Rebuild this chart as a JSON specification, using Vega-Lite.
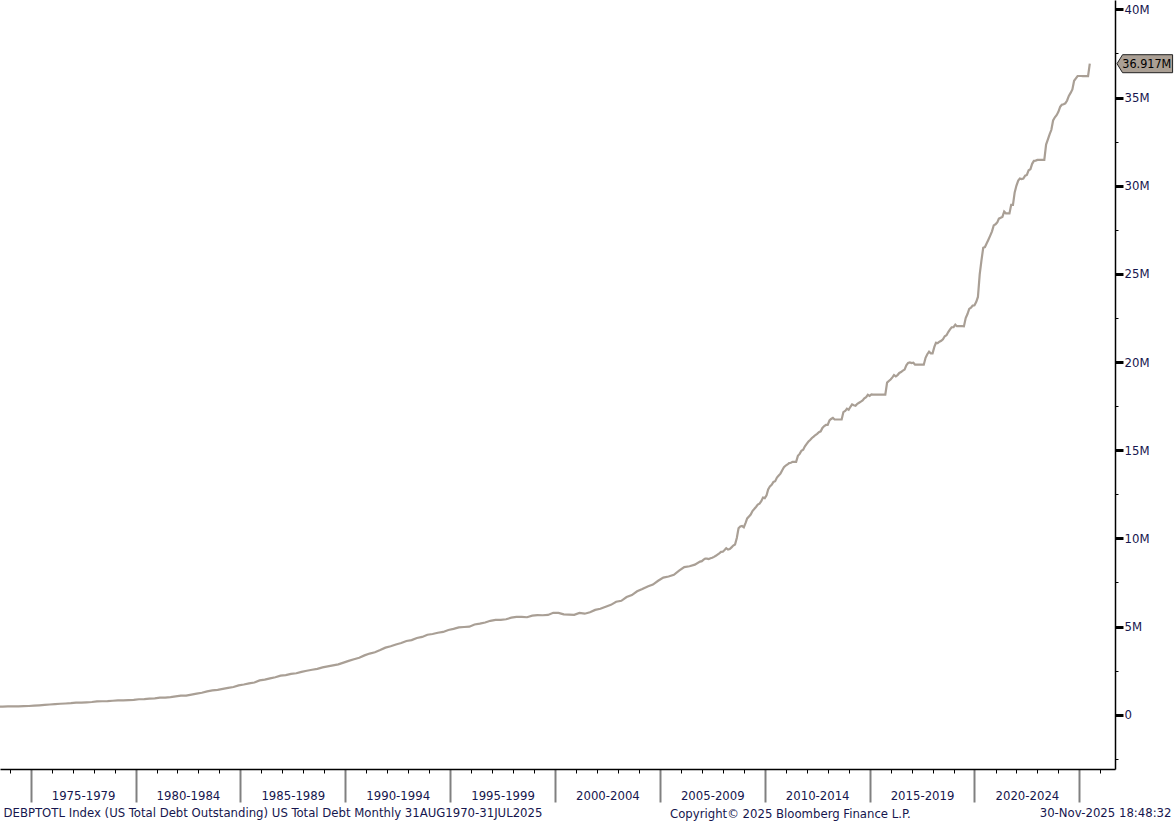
{
  "$schema": "https://vega.github.io/schema/vega-lite/v6.json",
  "width": 1115,
  "height": 769,
  "padding": {"left": 0, "top": 0, "right": 59, "bottom": 52},
  "autosize": {"type": "none"},
  "background": "white",
  "config": {
    "view": {"stroke": null},
    "font": "DejaVu Sans Condensed",
    "axis": {"labelFont": "DejaVu Sans Condensed", "titleFont": "DejaVu Sans Condensed"},
    "title": {"font": "DejaVu Sans Condensed"}
  },
  "title": {
    "text": "Copyright© 2025 Bloomberg Finance L.P.",
    "orient": "bottom",
    "anchor": "start",
    "frame": "group",
    "dx": 670,
    "dy": -17,
    "offset": 0,
    "baseline": "alphabetic",
    "fontSize": 13,
    "fontWeight": "normal",
    "color": "#16164e"
  },
  "data": {
    "values": [
      {"d": "1973-03", "v": 0.458}, {"d": "1973-06", "v": 0.458}, {"d": "1973-09", "v": 0.462}, {"d": "1973-12", "v": 0.470},
      {"d": "1974-03", "v": 0.474}, {"d": "1974-06", "v": 0.475}, {"d": "1974-09", "v": 0.481}, {"d": "1974-12", "v": 0.492},
      {"d": "1975-03", "v": 0.509}, {"d": "1975-06", "v": 0.533}, {"d": "1975-09", "v": 0.554}, {"d": "1975-12", "v": 0.577},
      {"d": "1976-03", "v": 0.600}, {"d": "1976-06", "v": 0.620}, {"d": "1976-09", "v": 0.635}, {"d": "1976-12", "v": 0.654},
      {"d": "1977-03", "v": 0.680}, {"d": "1977-06", "v": 0.686}, {"d": "1977-09", "v": 0.699}, {"d": "1977-12", "v": 0.718},
      {"d": "1978-03", "v": 0.750}, {"d": "1978-06", "v": 0.762}, {"d": "1978-09", "v": 0.772}, {"d": "1978-12", "v": 0.789},
      {"d": "1979-03", "v": 0.809}, {"d": "1979-06", "v": 0.812}, {"d": "1979-09", "v": 0.827}, {"d": "1979-12", "v": 0.845},
      {"d": "1980-03", "v": 0.877}, {"d": "1980-06", "v": 0.885}, {"d": "1980-09", "v": 0.908}, {"d": "1980-12", "v": 0.930},
      {"d": "1981-03", "v": 0.964}, {"d": "1981-06", "v": 0.971}, {"d": "1981-09", "v": 0.998}, {"d": "1981-12", "v": 1.034},
      {"d": "1982-03", "v": 1.076}, {"d": "1982-06", "v": 1.085}, {"d": "1982-09", "v": 1.142}, {"d": "1982-12", "v": 1.197},
      {"d": "1983-03", "v": 1.245}, {"d": "1983-06", "v": 1.318}, {"d": "1983-09", "v": 1.377}, {"d": "1983-12", "v": 1.410},
      {"d": "1984-03", "v": 1.463}, {"d": "1984-06", "v": 1.518}, {"d": "1984-09", "v": 1.572}, {"d": "1984-12", "v": 1.663},
      {"d": "1985-03", "v": 1.710}, {"d": "1985-06", "v": 1.775}, {"d": "1985-09", "v": 1.823}, {"d": "1985-12", "v": 1.945},
      {"d": "1986-03", "v": 1.986}, {"d": "1986-06", "v": 2.060}, {"d": "1986-09", "v": 2.125}, {"d": "1986-12", "v": 2.214},
      {"d": "1987-03", "v": 2.246}, {"d": "1987-06", "v": 2.311}, {"d": "1987-09", "v": 2.350}, {"d": "1987-12", "v": 2.431},
      {"d": "1988-03", "v": 2.493}, {"d": "1988-06", "v": 2.547}, {"d": "1988-09", "v": 2.602}, {"d": "1988-12", "v": 2.684},
      {"d": "1989-03", "v": 2.740}, {"d": "1989-06", "v": 2.799}, {"d": "1989-09", "v": 2.857}, {"d": "1989-12", "v": 2.953},
      {"d": "1990-03", "v": 3.052}, {"d": "1990-06", "v": 3.143}, {"d": "1990-09", "v": 3.233}, {"d": "1990-12", "v": 3.364},
      {"d": "1991-03", "v": 3.466}, {"d": "1991-06", "v": 3.538}, {"d": "1991-09", "v": 3.665}, {"d": "1991-12", "v": 3.801},
      {"d": "1992-03", "v": 3.881}, {"d": "1992-06", "v": 3.984}, {"d": "1992-09", "v": 4.065}, {"d": "1992-12", "v": 4.177},
      {"d": "1993-03", "v": 4.230}, {"d": "1993-06", "v": 4.352}, {"d": "1993-09", "v": 4.411}, {"d": "1993-12", "v": 4.536},
      {"d": "1994-03", "v": 4.576}, {"d": "1994-06", "v": 4.645}, {"d": "1994-09", "v": 4.693}, {"d": "1994-12", "v": 4.800},
      {"d": "1995-03", "v": 4.864}, {"d": "1995-06", "v": 4.951}, {"d": "1995-09", "v": 4.974}, {"d": "1995-12", "v": 4.989},
      {"d": "1996-03", "v": 5.117}, {"d": "1996-06", "v": 5.161}, {"d": "1996-09", "v": 5.225}, {"d": "1996-12", "v": 5.323},
      {"d": "1997-03", "v": 5.381}, {"d": "1997-06", "v": 5.376}, {"d": "1997-09", "v": 5.413}, {"d": "1997-12", "v": 5.503},
      {"d": "1998-03", "v": 5.542}, {"d": "1998-06", "v": 5.548}, {"d": "1998-09", "v": 5.526}, {"d": "1998-12", "v": 5.614},
      {"d": "1999-03", "v": 5.651}, {"d": "1999-06", "v": 5.638}, {"d": "1999-09", "v": 5.656}, {"d": "1999-12", "v": 5.776},
      {"d": "2000-03", "v": 5.773}, {"d": "2000-06", "v": 5.686}, {"d": "2000-09", "v": 5.674}, {"d": "2000-12", "v": 5.662},
      {"d": "2001-03", "v": 5.774}, {"d": "2001-06", "v": 5.727}, {"d": "2001-09", "v": 5.807}, {"d": "2001-12", "v": 5.943},
      {"d": "2002-03", "v": 6.006}, {"d": "2002-06", "v": 6.126}, {"d": "2002-09", "v": 6.228}, {"d": "2002-12", "v": 6.405},
      {"d": "2003-03", "v": 6.460}, {"d": "2003-06", "v": 6.670}, {"d": "2003-09", "v": 6.783}, {"d": "2003-12", "v": 6.998},
      {"d": "2004-03", "v": 7.131}, {"d": "2004-06", "v": 7.274}, {"d": "2004-09", "v": 7.379}, {"d": "2004-12", "v": 7.596},
      {"d": "2005-03", "v": 7.777}, {"d": "2005-06", "v": 7.836}, {"d": "2005-09", "v": 7.933}, {"d": "2005-12", "v": 8.170},
      {"d": "2006-03", "v": 8.371}, {"d": "2006-06", "v": 8.420}, {"d": "2006-09", "v": 8.507}, {"d": "2006-12", "v": 8.680},
      {"d": "2007-01", "v": 8.708}, {"d": "2007-02", "v": 8.79}, {"d": "2007-03", "v": 8.85}, {"d": "2007-04", "v": 8.85}, {"d": "2007-05", "v": 8.83}, {"d": "2007-06", "v": 8.87}, {"d": "2007-07", "v": 8.90}, {"d": "2007-08", "v": 8.95}, {"d": "2007-09", "v": 9.01}, {"d": "2007-10", "v": 9.08}, {"d": "2007-11", "v": 9.15}, {"d": "2007-12", "v": 9.23},
      {"d": "2008-01", "v": 9.24}, {"d": "2008-02", "v": 9.34}, {"d": "2008-03", "v": 9.44}, {"d": "2008-04", "v": 9.36}, {"d": "2008-05", "v": 9.39}, {"d": "2008-06", "v": 9.49}, {"d": "2008-07", "v": 9.59}, {"d": "2008-08", "v": 9.65}, {"d": "2008-09", "v": 10.02}, {"d": "2008-10", "v": 10.57}, {"d": "2008-11", "v": 10.67}, {"d": "2008-12", "v": 10.70},
      {"d": "2009-01", "v": 10.63}, {"d": "2009-02", "v": 10.88}, {"d": "2009-03", "v": 11.13}, {"d": "2009-04", "v": 11.24}, {"d": "2009-05", "v": 11.35}, {"d": "2009-06", "v": 11.55}, {"d": "2009-07", "v": 11.66}, {"d": "2009-08", "v": 11.78}, {"d": "2009-09", "v": 11.91}, {"d": "2009-10", "v": 11.97}, {"d": "2009-11", "v": 12.11}, {"d": "2009-12", "v": 12.31},
      {"d": "2010-01", "v": 12.28}, {"d": "2010-02", "v": 12.44}, {"d": "2010-03", "v": 12.77}, {"d": "2010-04", "v": 12.95}, {"d": "2010-05", "v": 13.04}, {"d": "2010-06", "v": 13.20}, {"d": "2010-07", "v": 13.24}, {"d": "2010-08", "v": 13.45}, {"d": "2010-09", "v": 13.56}, {"d": "2010-10", "v": 13.67}, {"d": "2010-11", "v": 13.86}, {"d": "2010-12", "v": 14.03},
      {"d": "2011-01", "v": 14.13}, {"d": "2011-02", "v": 14.19}, {"d": "2011-03", "v": 14.27}, {"d": "2011-04", "v": 14.29}, {"d": "2011-05", "v": 14.34}, {"d": "2011-06", "v": 14.34}, {"d": "2011-07", "v": 14.34}, {"d": "2011-08", "v": 14.68}, {"d": "2011-09", "v": 14.79}, {"d": "2011-10", "v": 14.97}, {"d": "2011-11", "v": 15.03}, {"d": "2011-12", "v": 15.22},
      {"d": "2012-01", "v": 15.36}, {"d": "2012-02", "v": 15.49}, {"d": "2012-03", "v": 15.58}, {"d": "2012-04", "v": 15.69}, {"d": "2012-05", "v": 15.77}, {"d": "2012-06", "v": 15.86}, {"d": "2012-07", "v": 15.93}, {"d": "2012-08", "v": 16.02}, {"d": "2012-09", "v": 16.07}, {"d": "2012-10", "v": 16.26}, {"d": "2012-11", "v": 16.37}, {"d": "2012-12", "v": 16.43},
      {"d": "2013-01", "v": 16.43}, {"d": "2013-02", "v": 16.69}, {"d": "2013-03", "v": 16.77}, {"d": "2013-04", "v": 16.83}, {"d": "2013-05", "v": 16.74}, {"d": "2013-06", "v": 16.74}, {"d": "2013-07", "v": 16.74}, {"d": "2013-08", "v": 16.74}, {"d": "2013-09", "v": 16.74}, {"d": "2013-10", "v": 17.16}, {"d": "2013-11", "v": 17.22}, {"d": "2013-12", "v": 17.35},
      {"d": "2014-01", "v": 17.29}, {"d": "2014-02", "v": 17.46}, {"d": "2014-03", "v": 17.60}, {"d": "2014-04", "v": 17.55}, {"d": "2014-05", "v": 17.52}, {"d": "2014-06", "v": 17.63}, {"d": "2014-07", "v": 17.69}, {"d": "2014-08", "v": 17.75}, {"d": "2014-09", "v": 17.82}, {"d": "2014-10", "v": 17.94}, {"d": "2014-11", "v": 18.01}, {"d": "2014-12", "v": 18.14},
      {"d": "2015-01", "v": 18.08}, {"d": "2015-02", "v": 18.16}, {"d": "2015-03", "v": 18.15}, {"d": "2015-04", "v": 18.15}, {"d": "2015-05", "v": 18.15}, {"d": "2015-06", "v": 18.15}, {"d": "2015-07", "v": 18.15}, {"d": "2015-08", "v": 18.15}, {"d": "2015-09", "v": 18.15}, {"d": "2015-10", "v": 18.15}, {"d": "2015-11", "v": 18.83}, {"d": "2015-12", "v": 18.92},
      {"d": "2016-01", "v": 19.01}, {"d": "2016-02", "v": 19.13}, {"d": "2016-03", "v": 19.26}, {"d": "2016-04", "v": 19.19}, {"d": "2016-05", "v": 19.26}, {"d": "2016-06", "v": 19.38}, {"d": "2016-07", "v": 19.43}, {"d": "2016-08", "v": 19.51}, {"d": "2016-09", "v": 19.57}, {"d": "2016-10", "v": 19.81}, {"d": "2016-11", "v": 19.95}, {"d": "2016-12", "v": 19.98},
      {"d": "2017-01", "v": 19.94}, {"d": "2017-02", "v": 19.96}, {"d": "2017-03", "v": 19.85}, {"d": "2017-04", "v": 19.85}, {"d": "2017-05", "v": 19.85}, {"d": "2017-06", "v": 19.85}, {"d": "2017-07", "v": 19.85}, {"d": "2017-08", "v": 19.85}, {"d": "2017-09", "v": 20.24}, {"d": "2017-10", "v": 20.44}, {"d": "2017-11", "v": 20.59}, {"d": "2017-12", "v": 20.49},
      {"d": "2018-01", "v": 20.49}, {"d": "2018-02", "v": 20.86}, {"d": "2018-03", "v": 21.09}, {"d": "2018-04", "v": 21.07}, {"d": "2018-05", "v": 21.15}, {"d": "2018-06", "v": 21.20}, {"d": "2018-07", "v": 21.29}, {"d": "2018-08", "v": 21.46}, {"d": "2018-09", "v": 21.52}, {"d": "2018-10", "v": 21.70}, {"d": "2018-11", "v": 21.85}, {"d": "2018-12", "v": 21.97},
      {"d": "2019-01", "v": 21.98}, {"d": "2019-02", "v": 22.12}, {"d": "2019-03", "v": 22.03}, {"d": "2019-04", "v": 22.03}, {"d": "2019-05", "v": 22.03}, {"d": "2019-06", "v": 22.03}, {"d": "2019-07", "v": 22.02}, {"d": "2019-08", "v": 22.49}, {"d": "2019-09", "v": 22.72}, {"d": "2019-10", "v": 23.01}, {"d": "2019-11", "v": 23.08}, {"d": "2019-12", "v": 23.20},
      {"d": "2020-01", "v": 23.22}, {"d": "2020-02", "v": 23.41}, {"d": "2020-03", "v": 23.69}, {"d": "2020-04", "v": 24.97}, {"d": "2020-05", "v": 25.75}, {"d": "2020-06", "v": 26.48}, {"d": "2020-07", "v": 26.52}, {"d": "2020-08", "v": 26.73}, {"d": "2020-09", "v": 26.95}, {"d": "2020-10", "v": 27.17}, {"d": "2020-11", "v": 27.41}, {"d": "2020-12", "v": 27.75},
      {"d": "2021-01", "v": 27.81}, {"d": "2021-02", "v": 27.92}, {"d": "2021-03", "v": 28.13}, {"d": "2021-04", "v": 28.18}, {"d": "2021-05", "v": 28.23}, {"d": "2021-06", "v": 28.53}, {"d": "2021-07", "v": 28.43}, {"d": "2021-08", "v": 28.43}, {"d": "2021-09", "v": 28.43}, {"d": "2021-10", "v": 28.91}, {"d": "2021-11", "v": 28.91}, {"d": "2021-12", "v": 29.62},
      {"d": "2022-01", "v": 30.01}, {"d": "2022-02", "v": 30.29}, {"d": "2022-03", "v": 30.40}, {"d": "2022-04", "v": 30.37}, {"d": "2022-05", "v": 30.40}, {"d": "2022-06", "v": 30.57}, {"d": "2022-07", "v": 30.61}, {"d": "2022-08", "v": 30.87}, {"d": "2022-09", "v": 30.93}, {"d": "2022-10", "v": 31.24}, {"d": "2022-11", "v": 31.41}, {"d": "2022-12", "v": 31.42},
      {"d": "2023-01", "v": 31.46}, {"d": "2023-02", "v": 31.46}, {"d": "2023-03", "v": 31.46}, {"d": "2023-04", "v": 31.46}, {"d": "2023-05", "v": 31.46}, {"d": "2023-06", "v": 32.33}, {"d": "2023-07", "v": 32.61}, {"d": "2023-08", "v": 32.91}, {"d": "2023-09", "v": 33.17}, {"d": "2023-10", "v": 33.70}, {"d": "2023-11", "v": 33.88}, {"d": "2023-12", "v": 34.00},
      {"d": "2024-01", "v": 34.19}, {"d": "2024-02", "v": 34.47}, {"d": "2024-03", "v": 34.59}, {"d": "2024-04", "v": 34.62}, {"d": "2024-05", "v": 34.67}, {"d": "2024-06", "v": 34.83}, {"d": "2024-07", "v": 35.09}, {"d": "2024-08", "v": 35.26}, {"d": "2024-09", "v": 35.46}, {"d": "2024-10", "v": 35.95}, {"d": "2024-11", "v": 36.09}, {"d": "2024-12", "v": 36.22},
      {"d": "2025-01", "v": 36.22}, {"d": "2025-02", "v": 36.22}, {"d": "2025-03", "v": 36.21}, {"d": "2025-04", "v": 36.21}, {"d": "2025-05", "v": 36.21}, {"d": "2025-06", "v": 36.21}, {"d": "2025-07", "v": 36.917}
    ]
  },
  "encoding": {
    "x": {
      "field": "d",
      "type": "temporal",
      "scale": {"domain": [{"year": 1973, "month": 7, "date": 16}, {"year": 2026, "month": 9, "date": 13}], "nice": false},
      "axis": {
        "orient": "bottom",
        "grid": false,
        "domainColor": "#000000",
        "domainWidth": 1.5,
        "values": [
          {"year": 1974, "month": 1, "date": 1}, {"year": 1975, "month": 1, "date": 1}, {"year": 1976, "month": 1, "date": 1}, {"year": 1977, "month": 1, "date": 1}, {"year": 1978, "month": 1, "date": 1}, {"year": 1979, "month": 1, "date": 1},
          {"year": 1980, "month": 1, "date": 1}, {"year": 1981, "month": 1, "date": 1}, {"year": 1982, "month": 1, "date": 1}, {"year": 1983, "month": 1, "date": 1}, {"year": 1984, "month": 1, "date": 1},
          {"year": 1985, "month": 1, "date": 1}, {"year": 1986, "month": 1, "date": 1}, {"year": 1987, "month": 1, "date": 1}, {"year": 1988, "month": 1, "date": 1}, {"year": 1989, "month": 1, "date": 1},
          {"year": 1990, "month": 1, "date": 1}, {"year": 1991, "month": 1, "date": 1}, {"year": 1992, "month": 1, "date": 1}, {"year": 1993, "month": 1, "date": 1}, {"year": 1994, "month": 1, "date": 1},
          {"year": 1995, "month": 1, "date": 1}, {"year": 1996, "month": 1, "date": 1}, {"year": 1997, "month": 1, "date": 1}, {"year": 1998, "month": 1, "date": 1}, {"year": 1999, "month": 1, "date": 1},
          {"year": 2000, "month": 1, "date": 1}, {"year": 2001, "month": 1, "date": 1}, {"year": 2002, "month": 1, "date": 1}, {"year": 2003, "month": 1, "date": 1}, {"year": 2004, "month": 1, "date": 1},
          {"year": 2005, "month": 1, "date": 1}, {"year": 2006, "month": 1, "date": 1}, {"year": 2007, "month": 1, "date": 1}, {"year": 2008, "month": 1, "date": 1}, {"year": 2009, "month": 1, "date": 1},
          {"year": 2010, "month": 1, "date": 1}, {"year": 2011, "month": 1, "date": 1}, {"year": 2012, "month": 1, "date": 1}, {"year": 2013, "month": 1, "date": 1}, {"year": 2014, "month": 1, "date": 1},
          {"year": 2015, "month": 1, "date": 1}, {"year": 2016, "month": 1, "date": 1}, {"year": 2017, "month": 1, "date": 1}, {"year": 2018, "month": 1, "date": 1}, {"year": 2019, "month": 1, "date": 1},
          {"year": 2020, "month": 1, "date": 1}, {"year": 2021, "month": 1, "date": 1}, {"year": 2022, "month": 1, "date": 1}, {"year": 2023, "month": 1, "date": 1}, {"year": 2024, "month": 1, "date": 1},
          {"year": 2025, "month": 1, "date": 1}, {"year": 2026, "month": 1, "date": 1},
          {"year": 1977, "month": 7, "date": 2}, {"year": 1982, "month": 7, "date": 2}, {"year": 1987, "month": 7, "date": 2}, {"year": 1992, "month": 7, "date": 2}, {"year": 1997, "month": 7, "date": 2},
          {"year": 2002, "month": 7, "date": 2}, {"year": 2007, "month": 7, "date": 2}, {"year": 2012, "month": 7, "date": 2}, {"year": 2017, "month": 7, "date": 2}, {"year": 2022, "month": 7, "date": 2}
        ],
        "labelExpr": "month(datum.value) == 6 ? (year(datum.value) - 2) + '-' + (year(datum.value) + 2) : ''",
        "labelOverlap": false,
        "labelFlush": false,
        "labelBound": false,
        "labelFontSize": 13,
        "labelColor": "#16164e",
        "labelBaseline": "alphabetic",
        "labelPadding": 30,
        "tickSize": {"condition": [{"test": "month(datum.value) != 0", "value": 0}, {"test": "year(datum.value) % 5 == 0", "value": 33}], "value": 4},
        "tickColor": {"condition": [{"test": "month(datum.value) != 0", "value": "transparent"}, {"test": "year(datum.value) % 5 == 0", "value": "#808080"}], "value": "#000000"},
        "tickWidth": {"condition": {"test": "year(datum.value) % 5 == 0 && month(datum.value) == 0", "value": 2}, "value": 1},
        "title": "DEBPTOTL Index (US Total Debt Outstanding) US Total Debt Monthly 31AUG1970-31JUL2025",
        "titleAnchor": "start",
        "titleAlign": "left",
        "titleX": 3,
        "titleY": 47,
        "titleBaseline": "alphabetic",
        "titleFontSize": 13,
        "titleFontWeight": "normal",
        "titleColor": "#16164e"
      }
    },
    "y": {
      "field": "v",
      "type": "quantitative",
      "scale": {"domain": [-3.08, 40.53], "nice": false, "zero": false},
      "axis": {
        "orient": "right",
        "grid": false,
        "domainColor": "#000000",
        "domainWidth": 1.5,
        "values": [-2.5, 0, 2.5, 5, 7.5, 10, 12.5, 15, 17.5, 20, 22.5, 25, 27.5, 30, 32.5, 35, 37.5, 40],
        "labelExpr": "datum.value % 5 != 0 ? '' : (datum.value == 0 ? '0' : datum.value + 'M')",
        "labelOverlap": false,
        "labelFlush": false,
        "labelBound": false,
        "labelFontSize": 13,
        "labelColor": "#16164e",
        "labelPadding": 1,
        "tickSize": {"condition": {"test": "datum.value % 5 != 0", "value": 3}, "value": 8},
        "tickWidth": {"condition": {"test": "datum.value % 5 != 0", "value": 1}, "value": 3},
        "tickColor": "#000000",
        "title": "30-Nov-2025 18:48:32",
        "titleAngle": 0,
        "titleAlign": "right",
        "titleAnchor": "start",
        "titleX": 56,
        "titleY": 816,
        "titleBaseline": "alphabetic",
        "titleFontSize": 13,
        "titleFontWeight": "normal",
        "titleColor": "#16164e"
      }
    }
  },
  "layer": [
    {
      "mark": {"type": "line", "color": "#a99f95", "strokeWidth": 2.2, "clip": true, "interpolate": "linear"}
    },
    {
      "transform": [{"filter": "datum.v > 36.5"}],
      "mark": {"type": "point", "filled": true, "shape": "M -1 0 L -0.8 -0.324 L 1 -0.324 L 1 0.324 L -0.8 0.324 Z", "size": 3091, "fill": "#aa9f94", "stroke": "#222222", "strokeWidth": 1, "opacity": 1},
      "encoding": {"xOffset": {"value": 55}}
    },
    {
      "transform": [{"filter": "datum.v > 36.5"}, {"calculate": "format(datum.v, '.3f') + 'M'", "as": "lbl"}],
      "mark": {"type": "text", "dx": 57, "align": "center", "baseline": "middle", "fontSize": 12.5, "color": "#000000"},
      "encoding": {"text": {"field": "lbl"}}
    }
  ]
}
